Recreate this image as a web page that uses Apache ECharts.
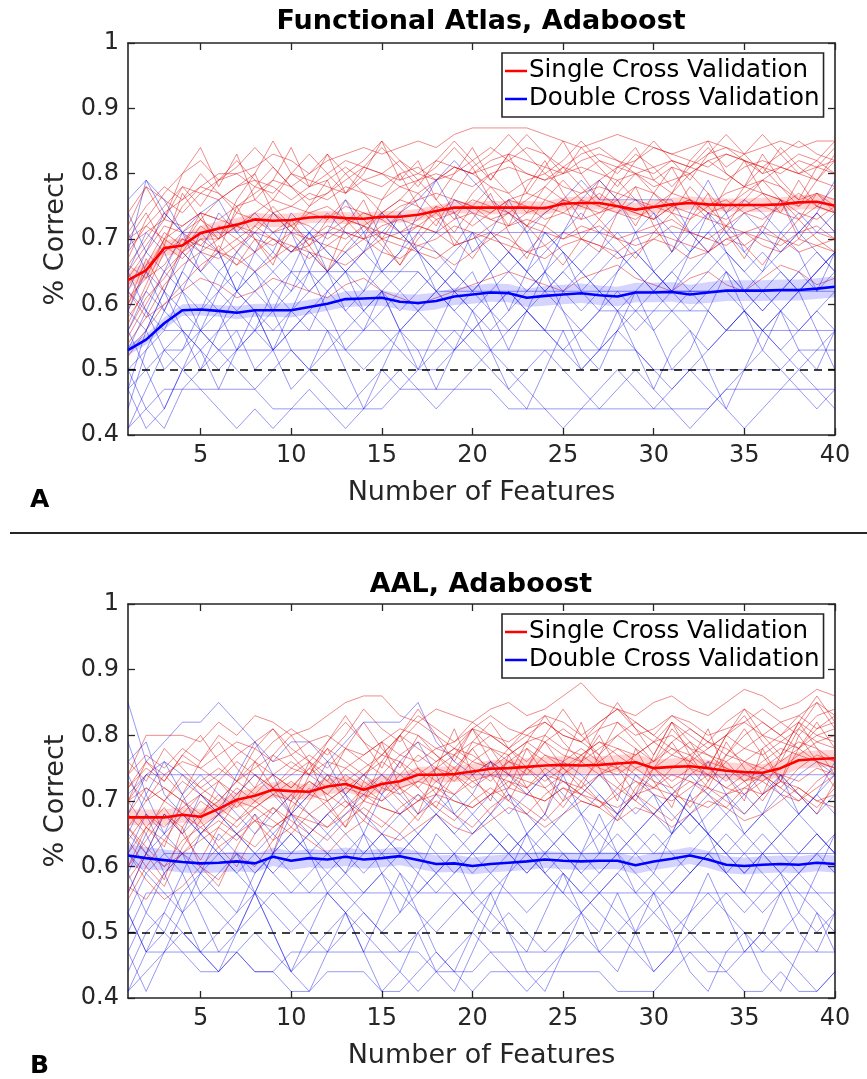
<!DOCTYPE html>
<html>
<head>
<meta charset="utf-8">
<script src="https://cdn.jsdelivr.net/npm/echarts/dist/echarts.min.js"></script>
<style>html,body{margin:0;padding:0;background:#fff}#chart{width:867px;height:1079px}</style>
</head>
<body>
<div id="chart"></div>
<script>
const FEATURES = [1,2,3,4,5,6,7,8,9,10,11,12,13,14,15,16,17,18,19,20,21,22,23,24,25,26,27,28,29,30,31,32,33,34,35,36,37,38,39,40];
const X_TICKS = [5,10,15,20,25,30,35,40];
const CHANCE = 0.5;
const TITLE_A = 'Functional Atlas, Adaboost';
const TITLE_B = 'AAL, Adaboost';
const NAME_SINGLE = 'Single Cross Validation';
const NAME_DOUBLE = 'Double Cross Validation';

// Panel A — mean curves and their shaded error half-widths
const A_SINGLE_MEAN = [.637,.652,.686,.69,.709,.716,.722,.73,.728,.729, .733,.734,.732,.731,.734,.734,.737,.743,.748,.748, .748,.748,.748,.747,.754,.755,.755,.75,.745,.749, .753,.755,.753,.752,.752,.752,.753,.756,.757,.751];
const A_SINGLE_SEM = [.013,.013,.012,.012,.011,.011,.01,.01,.01,.01, .009,.009,.009,.009,.009,.009,.009,.009,.009,.009, .01,.01,.01,.01,.01,.01,.01,.01,.01,.01, .01,.01,.01,.01,.01,.011,.011,.011,.011,.011];
const A_DOUBLE_MEAN = [.53,.546,.571,.591,.592,.59,.587,.591,.591,.591, .596,.601,.608,.609,.61,.604,.602,.605,.612,.615, .618,.617,.61,.613,.615,.617,.614,.612,.618,.618, .619,.615,.618,.621,.621,.621,.622,.622,.624,.627];
const A_DOUBLE_SEM = [.008,.008,.009,.009,.009,.009,.01,.01,.01,.011, .011,.011,.012,.012,.012,.012,.013,.013,.013,.014, .014,.014,.014,.015,.015,.015,.015,.015,.015,.015, .015,.015,.016,.016,.016,.016,.016,.016,.016,.016];

// Panel A — individual single-CV runs
const A_SINGLE_RUNS = [
[.66,.7,.74,.76,.78,.8,.8,.81,.83,.82, .8,.82,.83,.84,.83,.84,.85,.84,.86,.87, .87,.87,.87,.86,.85,.84,.85,.86,.85,.84, .83,.84,.85,.84,.83,.84,.85,.84,.85,.85],
[.6,.65,.7,.72,.74,.73,.75,.76,.74,.75, .77,.76,.78,.77,.76,.78,.79,.8,.79,.78, .8,.81,.8,.79,.8,.81,.8,.79,.8,.81, .82,.81,.8,.79,.81,.82,.81,.8,.81,.82],
[.55,.6,.65,.68,.7,.7,.72,.7,.69,.71, .7,.72,.71,.7,.72,.73,.72,.71,.73,.74, .73,.72,.74,.75,.74,.73,.74,.75,.74,.73, .75,.74,.73,.72,.74,.75,.74,.73,.75,.74],
[.68,.72,.75,.78,.77,.79,.8,.78,.77,.8, .79,.78,.77,.79,.8,.82,.8,.79,.81,.8, .82,.83,.82,.81,.8,.82,.83,.82,.8,.79, .81,.8,.82,.83,.82,.8,.81,.83,.82,.8],
[.62,.58,.63,.66,.68,.67,.69,.71,.7,.68, .7,.69,.68,.7,.71,.7,.69,.7,.72,.71, .7,.72,.73,.72,.7,.71,.72,.7,.69,.7, .72,.71,.7,.69,.71,.72,.7,.69,.71,.7],
[.7,.74,.69,.77,.73,.7,.76,.8,.74,.71, .75,.79,.73,.7,.76,.8,.75,.72,.77,.81, .76,.72,.78,.82,.77,.73,.79,.76,.72,.77, .81,.76,.73,.78,.82,.77,.74,.79,.75,.78],
[.58,.62,.68,.7,.69,.72,.7,.68,.71,.73, .72,.7,.72,.74,.73,.71,.72,.74,.76,.75, .73,.74,.76,.78,.76,.75,.74,.76,.78,.77, .75,.76,.74,.75,.77,.79,.78,.76,.77,.75],
[.64,.68,.72,.71,.73,.76,.78,.8,.85,.8, .78,.8,.82,.81,.8,.79,.8,.82,.81,.8, .81,.82,.84,.83,.81,.8,.82,.81,.82,.84, .83,.82,.81,.83,.82,.81,.8,.82,.81,.8],
[.52,.56,.6,.63,.66,.68,.67,.65,.67,.69, .68,.67,.66,.68,.7,.69,.68,.67,.69,.7, .71,.7,.68,.69,.71,.7,.69,.68,.7,.71, .7,.69,.68,.7,.69,.71,.7,.68,.69,.7],
[.72,.78,.73,.8,.84,.78,.83,.76,.79,.84, .78,.83,.77,.8,.85,.79,.82,.76,.8,.84, .79,.83,.77,.81,.85,.8,.76,.81,.84,.79, .77,.82,.85,.8,.78,.83,.79,.76,.81,.84],
[.66,.64,.7,.68,.72,.7,.74,.73,.71,.72, .74,.75,.73,.72,.74,.76,.75,.73,.74,.76, .75,.74,.72,.74,.76,.75,.77,.75,.74,.73, .75,.76,.74,.73,.75,.77,.76,.74,.73,.75],
[.6,.67,.62,.69,.74,.68,.75,.7,.66,.73, .69,.65,.72,.76,.7,.66,.71,.75,.69,.73, .77,.71,.67,.72,.76,.7,.68,.74,.78,.72, .68,.73,.77,.71,.67,.72,.76,.7,.74,.71],
[.7,.72,.7,.75,.78,.77,.75,.77,.79,.78, .76,.77,.79,.81,.8,.78,.77,.79,.81,.8, .78,.77,.79,.8,.78,.77,.79,.81,.8,.78, .79,.8,.82,.8,.78,.79,.81,.8,.79,.78],
[.57,.63,.69,.67,.7,.68,.7,.72,.7,.68, .69,.71,.7,.72,.71,.7,.72,.71,.69,.7, .72,.74,.72,.71,.7,.72,.71,.7,.71,.72, .73,.71,.7,.72,.71,.7,.69,.71,.72,.7],
[.74,.78,.76,.74,.77,.76,.78,.79,.78,.76, .78,.79,.81,.79,.78,.8,.81,.79,.8,.82, .84,.82,.8,.79,.81,.83,.84,.82,.81,.8, .82,.81,.83,.84,.82,.81,.83,.85,.83,.82],
[.63,.66,.68,.71,.69,.68,.66,.68,.7,.69, .67,.69,.71,.7,.68,.67,.69,.68,.66,.68, .7,.69,.68,.67,.69,.7,.69,.67,.68,.7, .69,.67,.68,.7,.71,.69,.68,.7,.69,.68],
[.69,.71,.73,.72,.74,.73,.72,.74,.76,.75, .74,.73,.75,.74,.73,.75,.76,.77,.76,.75, .74,.76,.77,.76,.75,.77,.78,.77,.76,.75, .77,.76,.75,.77,.78,.77,.76,.75,.77,.76],
[.61,.64,.66,.7,.68,.7,.72,.71,.74,.72, .7,.71,.73,.72,.7,.71,.73,.75,.74,.72, .74,.76,.75,.73,.74,.76,.75,.74,.73,.75, .74,.73,.75,.76,.74,.73,.75,.77,.75,.74],
[.54,.58,.6,.62,.64,.63,.61,.62,.64,.63, .62,.61,.63,.64,.62,.61,.6,.61,.62,.63, .64,.65,.64,.63,.62,.64,.65,.66,.64,.63, .62,.64,.65,.63,.62,.64,.66,.65,.63,.64],
[.65,.69,.73,.78,.75,.79,.82,.79,.76,.8, .83,.8,.77,.81,.84,.81,.78,.82,.85,.82, .79,.83,.86,.83,.8,.84,.81,.78,.82,.85, .82,.79,.83,.86,.83,.8,.84,.81,.79,.83],
[.59,.66,.71,.69,.73,.71,.68,.72,.75,.72, .69,.73,.76,.73,.7,.74,.77,.74,.71,.75, .78,.75,.72,.76,.79,.76,.73,.77,.8,.77, .74,.78,.75,.72,.76,.79,.76,.73,.77,.74],
[.71,.75,.78,.76,.8,.77,.74,.78,.81,.78, .75,.77,.8,.77,.74,.76,.79,.76,.73,.77, .8,.77,.74,.78,.81,.78,.75,.79,.76,.73, .77,.8,.77,.74,.78,.81,.78,.75,.79,.82],
[.56,.61,.64,.68,.65,.69,.66,.7,.67,.71, .68,.65,.69,.72,.69,.66,.7,.73,.7,.67, .71,.68,.72,.69,.66,.7,.73,.7,.67,.71, .74,.71,.68,.72,.69,.66,.7,.73,.7,.68],
[.67,.73,.77,.8,.82,.79,.81,.84,.81,.78, .8,.83,.8,.82,.85,.82,.79,.81,.84,.81, .83,.86,.83,.8,.82,.85,.82,.8,.83,.81, .78,.81,.84,.81,.83,.86,.83,.8,.82,.85]
];

// Panel A — individual double-CV runs
const A_DOUBLE_RUNS = [
[.62,.68,.74,.71,.71,.71,.71,.71,.71,.71, .71,.71,.71,.71,.71,.71,.71,.71,.71,.71, .71,.71,.71,.71,.71,.71,.71,.71,.71,.71, .71,.71,.71,.71,.71,.71,.71,.71,.71,.71],
[.5,.53,.56,.56,.56,.56,.56,.56,.56,.56, .56,.56,.56,.56,.56,.56,.56,.56,.56,.56, .56,.56,.56,.56,.56,.56,.59,.59,.59,.59, .59,.59,.59,.56,.56,.56,.56,.56,.56,.56],
[.41,.44,.47,.47,.47,.47,.47,.47,.44,.44, .44,.44,.44,.44,.44,.47,.47,.47,.47,.47, .47,.44,.44,.44,.44,.44,.44,.44,.44,.44, .44,.44,.44,.47,.47,.47,.47,.47,.47,.47],
[.47,.5,.53,.53,.56,.53,.53,.53,.53,.53, .53,.53,.53,.53,.53,.53,.53,.53,.53,.53, .53,.53,.53,.53,.53,.53,.53,.53,.53,.5, .5,.5,.5,.5,.5,.5,.5,.53,.53,.53],
[.59,.65,.62,.68,.65,.62,.59,.62,.65,.62, .68,.65,.62,.59,.62,.65,.68,.65,.62,.59, .56,.59,.62,.65,.62,.59,.62,.65,.68,.65, .62,.59,.62,.65,.62,.59,.62,.65,.68,.65],
[.53,.56,.62,.59,.56,.53,.56,.5,.53,.56, .59,.56,.53,.5,.53,.56,.59,.62,.59,.56, .53,.56,.59,.56,.53,.5,.53,.56,.53,.5, .47,.5,.53,.56,.59,.56,.53,.5,.53,.56],
[.76,.79,.74,.71,.68,.74,.71,.68,.65,.68, .71,.74,.71,.68,.71,.74,.76,.79,.82,.79, .76,.74,.71,.74,.76,.79,.76,.76,.76,.76, .76,.71,.68,.71,.74,.71,.68,.71,.74,.71],
[.41,.47,.53,.5,.56,.59,.53,.56,.62,.59, .56,.62,.65,.59,.62,.56,.59,.62,.65,.62, .59,.62,.59,.56,.62,.65,.62,.59,.56,.59, .62,.65,.68,.65,.62,.59,.62,.65,.62,.65],
[.65,.59,.56,.62,.68,.65,.68,.71,.68,.65, .62,.65,.68,.71,.74,.71,.68,.65,.68,.71, .68,.65,.62,.65,.68,.65,.68,.71,.68,.65, .68,.71,.74,.71,.68,.65,.68,.71,.68,.65],
[.5,.44,.41,.47,.5,.53,.5,.47,.5,.53, .5,.47,.44,.47,.5,.47,.5,.53,.56,.53, .5,.47,.5,.53,.5,.47,.44,.47,.5,.47, .44,.41,.44,.47,.5,.53,.5,.47,.44,.47],
[.56,.62,.59,.65,.62,.59,.62,.59,.56,.59, .62,.65,.68,.65,.62,.59,.62,.65,.62,.59, .62,.65,.68,.71,.68,.65,.62,.59,.62,.65, .62,.62,.62,.62,.59,.56,.59,.62,.65,.68],
[.74,.68,.65,.71,.74,.76,.71,.74,.71,.68, .71,.68,.65,.68,.74,.71,.68,.71,.76,.74, .71,.68,.65,.68,.71,.74,.71,.74,.76,.74, .71,.68,.71,.74,.76,.74,.71,.74,.71,.74],
[.44,.53,.59,.56,.53,.5,.53,.56,.53,.56, .59,.62,.59,.56,.59,.62,.59,.56,.53,.56, .59,.56,.59,.62,.59,.56,.53,.56,.59,.62, .65,.62,.59,.56,.59,.62,.59,.56,.59,.62],
[.59,.56,.5,.53,.59,.62,.65,.62,.59,.62, .65,.62,.65,.68,.65,.62,.65,.62,.59,.62, .65,.68,.65,.62,.65,.68,.71,.68,.65,.62, .59,.62,.65,.68,.65,.68,.65,.62,.65,.68],
[.47,.41,.44,.5,.47,.44,.41,.44,.41,.44, .47,.44,.41,.44,.47,.5,.47,.44,.47,.5, .53,.5,.47,.44,.41,.44,.47,.5,.47,.44, .47,.5,.47,.44,.41,.44,.47,.5,.47,.44],
[.68,.79,.76,.71,.65,.68,.62,.65,.68,.74, .71,.68,.65,.62,.65,.68,.71,.68,.65,.62, .65,.68,.65,.62,.65,.62,.65,.68,.65,.62, .65,.68,.71,.68,.65,.62,.65,.62,.65,.68],
[.62,.59,.53,.56,.53,.56,.59,.56,.59,.53, .5,.53,.56,.59,.56,.53,.5,.5,.53,.56, .59,.62,.59,.56,.53,.56,.59,.62,.59,.56, .59,.56,.53,.56,.59,.56,.53,.56,.59,.56],
[.53,.59,.65,.62,.59,.65,.62,.65,.62,.65, .65,.65,.65,.65,.65,.65,.65,.62,.62,.62, .62,.62,.62,.62,.62,.62,.62,.62,.62,.62, .62,.62,.62,.62,.62,.62,.62,.62,.62,.62],
[.71,.65,.59,.65,.71,.68,.62,.68,.74,.71, .65,.71,.76,.71,.65,.68,.74,.79,.74,.68, .71,.76,.71,.65,.71,.76,.79,.76,.71,.74, .68,.74,.79,.74,.68,.71,.76,.71,.74,.79],
[.47,.56,.62,.56,.5,.56,.62,.59,.53,.59, .65,.59,.53,.56,.62,.56,.5,.56,.62,.65, .59,.53,.59,.65,.59,.53,.5,.56,.62,.56, .5,.53,.59,.65,.59,.53,.59,.62,.56,.5],
[.56,.5,.44,.5,.53,.47,.53,.59,.53,.47, .5,.56,.5,.44,.5,.56,.53,.47,.53,.59, .53,.47,.44,.5,.56,.5,.53,.59,.53,.47, .53,.56,.5,.44,.5,.56,.59,.53,.5,.56],
[.65,.71,.68,.62,.56,.62,.68,.65,.59,.65, .71,.65,.59,.62,.68,.74,.68,.62,.65,.71, .65,.59,.65,.71,.68,.62,.59,.65,.71,.65, .62,.68,.74,.68,.62,.65,.71,.68,.62,.68]
];

// Panel B — mean curves and their shaded error half-widths
const B_SINGLE_MEAN = [.675,.675,.675,.679,.676,.688,.702,.708,.717,.715, .714,.722,.726,.717,.726,.73,.74,.74,.741,.745, .749,.75,.752,.754,.755,.754,.755,.757,.759,.75, .752,.753,.75,.746,.744,.743,.75,.762,.764,.765];
const B_SINGLE_SEM = [.012,.012,.012,.012,.012,.012,.012,.012,.012,.012, .012,.012,.012,.012,.012,.012,.012,.012,.012,.012, .013,.013,.013,.013,.013,.013,.013,.013,.013,.013, .013,.013,.013,.013,.013,.013,.013,.013,.013,.013];
const B_DOUBLE_MEAN = [.617,.613,.61,.607,.605,.606,.608,.605,.615,.609, .613,.611,.615,.611,.613,.616,.61,.604,.605,.601, .604,.606,.608,.611,.609,.608,.609,.609,.602,.608, .612,.617,.611,.603,.601,.603,.604,.603,.606,.604];
const B_DOUBLE_SEM = [.017,.017,.016,.016,.015,.015,.015,.014,.014,.014, .014,.014,.014,.014,.014,.014,.013,.013,.013,.013, .013,.013,.013,.013,.013,.013,.013,.013,.013,.013, .013,.013,.013,.013,.013,.013,.013,.013,.013,.013];

// Panel B — individual single-CV runs
const B_SINGLE_RUNS = [
[.74,.8,.8,.8,.79,.82,.8,.83,.82,.8, .81,.83,.85,.86,.86,.83,.82,.84,.83,.82, .84,.85,.83,.84,.86,.88,.85,.84,.83,.85, .86,.84,.83,.85,.87,.86,.84,.85,.87,.86],
[.72,.76,.74,.76,.75,.77,.79,.78,.76,.77, .79,.8,.78,.77,.79,.81,.8,.78,.79,.81, .8,.79,.81,.82,.8,.79,.81,.82,.8,.81, .83,.82,.8,.81,.82,.8,.82,.83,.81,.82],
[.58,.62,.6,.64,.66,.68,.7,.69,.71,.7, .68,.7,.72,.71,.7,.72,.73,.72,.71,.73, .74,.73,.72,.74,.73,.72,.74,.75,.73,.72, .74,.73,.72,.71,.73,.75,.74,.73,.75,.74],
[.68,.72,.7,.74,.72,.7,.73,.75,.77,.75, .74,.76,.75,.77,.79,.77,.76,.78,.77,.79, .78,.77,.79,.8,.78,.77,.79,.78,.77,.79, .8,.78,.77,.76,.78,.8,.79,.78,.8,.81],
[.62,.58,.55,.57,.6,.63,.65,.67,.66,.68, .67,.66,.68,.7,.69,.68,.7,.71,.7,.69, .71,.72,.71,.7,.72,.71,.7,.69,.71,.72, .71,.7,.69,.71,.72,.71,.73,.72,.7,.71],
[.7,.66,.69,.65,.68,.71,.69,.72,.74,.72, .75,.73,.71,.74,.76,.74,.72,.75,.77,.75, .73,.76,.78,.76,.74,.77,.79,.77,.75,.76, .78,.76,.74,.77,.76,.75,.77,.79,.78,.76],
[.66,.7,.72,.7,.68,.7,.73,.76,.74,.72, .75,.78,.76,.74,.77,.8,.78,.76,.78,.77, .75,.78,.8,.79,.77,.76,.78,.8,.82,.8, .78,.77,.79,.78,.76,.78,.8,.82,.8,.79],
[.55,.6,.64,.62,.6,.58,.62,.6,.64,.66, .64,.62,.65,.67,.65,.64,.66,.68,.66,.65, .67,.69,.68,.66,.68,.7,.69,.67,.69,.68, .66,.68,.7,.69,.67,.68,.7,.72,.7,.69],
[.76,.73,.78,.75,.72,.74,.77,.79,.81,.78, .76,.79,.82,.79,.77,.8,.83,.81,.79,.82, .8,.78,.81,.83,.82,.8,.82,.84,.81,.79, .82,.8,.78,.8,.82,.84,.82,.8,.83,.84],
[.64,.68,.66,.69,.71,.69,.67,.7,.72,.7, .73,.71,.69,.72,.74,.72,.7,.73,.75,.73, .71,.74,.73,.72,.74,.76,.74,.72,.75,.73, .72,.74,.76,.75,.73,.74,.76,.78,.76,.75],
[.7,.74,.72,.7,.73,.75,.73,.71,.74,.76, .74,.72,.75,.73,.71,.74,.77,.75,.73,.76, .78,.76,.74,.77,.75,.73,.76,.78,.76,.75, .77,.79,.77,.75,.74,.76,.78,.77,.79,.8],
[.6,.64,.68,.66,.7,.68,.66,.69,.71,.73, .71,.7,.72,.74,.72,.71,.73,.75,.74,.72, .74,.76,.75,.73,.75,.77,.75,.74,.76,.75, .73,.75,.74,.72,.74,.73,.75,.77,.76,.75],
[.72,.75,.73,.77,.75,.73,.76,.74,.72,.75, .77,.75,.78,.76,.74,.77,.79,.77,.75,.78, .8,.78,.76,.79,.81,.79,.77,.8,.78,.76, .79,.81,.79,.77,.8,.82,.8,.78,.81,.83],
[.57,.55,.59,.62,.64,.66,.64,.67,.69,.67, .65,.68,.7,.68,.66,.69,.71,.69,.67,.7, .72,.7,.68,.71,.73,.71,.69,.72,.7,.68, .71,.73,.71,.69,.72,.74,.72,.7,.73,.75],
[.68,.65,.7,.73,.71,.69,.72,.7,.68,.71, .73,.71,.74,.72,.7,.73,.75,.73,.71,.74, .76,.74,.72,.75,.73,.71,.74,.76,.74,.72, .75,.77,.75,.73,.76,.74,.72,.75,.77,.76],
[.66,.63,.6,.62,.65,.67,.65,.63,.66,.68, .66,.64,.67,.69,.67,.65,.68,.7,.68,.66, .69,.71,.69,.67,.7,.72,.7,.68,.71,.69, .67,.7,.72,.7,.68,.71,.73,.71,.69,.72],
[.74,.77,.75,.78,.76,.8,.78,.76,.79,.81, .79,.77,.8,.84,.81,.79,.82,.8,.78,.81, .83,.81,.8,.82,.8,.79,.82,.84,.82,.8, .83,.81,.79,.82,.84,.82,.8,.83,.85,.83],
[.62,.66,.64,.68,.66,.64,.67,.69,.67,.65, .68,.66,.69,.71,.69,.68,.7,.72,.7,.69, .71,.73,.71,.7,.72,.7,.69,.71,.73,.71, .7,.72,.74,.72,.71,.73,.71,.7,.72,.74],
[.7,.72,.7,.68,.71,.73,.71,.74,.72,.74, .76,.74,.73,.75,.77,.76,.74,.76,.78,.76, .75,.77,.79,.77,.76,.78,.76,.75,.77,.79, .77,.76,.78,.8,.78,.77,.79,.81,.79,.78],
[.56,.62,.58,.66,.6,.57,.63,.68,.62,.7, .76,.7,.66,.73,.79,.72,.68,.75,.81,.74, .7,.77,.72,.68,.76,.82,.75,.7,.78,.73, .69,.76,.81,.74,.7,.78,.73,.8,.76,.72],
[.6,.66,.63,.7,.67,.73,.7,.76,.72,.68, .74,.78,.73,.7,.76,.8,.75,.71,.77,.81, .76,.72,.78,.74,.7,.76,.8,.75,.71,.77, .82,.77,.73,.79,.75,.71,.77,.82,.78,.74],
[.64,.6,.57,.63,.67,.63,.6,.65,.69,.66, .7,.74,.7,.67,.72,.76,.72,.69,.74,.78, .74,.7,.75,.79,.75,.72,.77,.73,.7,.75, .79,.75,.72,.77,.81,.77,.73,.78,.82,.78],
[.73,.7,.74,.71,.76,.79,.75,.72,.77,.8, .76,.73,.78,.82,.78,.75,.8,.77,.74,.79, .82,.78,.75,.8,.84,.8,.77,.82,.79,.76, .81,.78,.75,.8,.83,.79,.76,.81,.85,.81],
[.66,.62,.68,.65,.61,.66,.7,.67,.64,.69, .72,.69,.66,.7,.73,.7,.67,.71,.74,.71, .68,.72,.75,.72,.69,.73,.7,.67,.72,.75, .72,.69,.73,.76,.73,.7,.74,.71,.68,.73],
[.7,.76,.73,.77,.8,.76,.73,.78,.81,.77, .74,.79,.83,.79,.75,.8,.84,.8,.76,.81, .78,.74,.79,.83,.79,.76,.81,.85,.81,.77, .82,.79,.75,.8,.84,.8,.77,.82,.86,.82]
];

// Panel B — individual double-CV runs
const B_DOUBLE_RUNS = [
[.85,.76,.79,.82,.82,.85,.82,.79,.76,.79, .79,.76,.79,.82,.82,.82,.85,.79,.76,.74, .76,.74,.71,.74,.76,.74,.71,.68,.71,.74, .71,.68,.71,.74,.71,.68,.71,.74,.76,.74],
[.71,.74,.74,.74,.74,.74,.74,.74,.74,.74, .74,.74,.74,.74,.74,.74,.74,.74,.74,.74, .74,.74,.74,.74,.74,.74,.74,.74,.74,.74, .74,.74,.74,.74,.74,.74,.74,.74,.74,.74],
[.62,.68,.62,.62,.62,.62,.62,.62,.62,.62, .62,.62,.62,.62,.62,.62,.62,.62,.62,.62, .62,.62,.62,.62,.62,.62,.62,.62,.62,.62, .62,.62,.62,.62,.62,.62,.62,.62,.62,.62],
[.5,.56,.56,.56,.56,.56,.56,.56,.56,.56, .56,.56,.56,.56,.56,.56,.56,.56,.56,.56, .56,.56,.56,.56,.56,.56,.56,.56,.56,.56, .56,.56,.56,.56,.56,.56,.56,.56,.56,.56],
[.53,.47,.47,.47,.47,.47,.47,.44,.44,.47, .47,.47,.47,.47,.47,.47,.47,.44,.44,.44, .47,.47,.47,.47,.47,.47,.47,.47,.47,.47, .47,.47,.47,.47,.47,.47,.47,.47,.47,.47],
[.41,.47,.5,.47,.44,.44,.47,.44,.44,.41, .41,.44,.44,.44,.41,.41,.44,.47,.44,.41, .44,.44,.44,.44,.44,.44,.44,.41,.41,.41, .44,.47,.44,.44,.41,.41,.44,.41,.41,.44],
[.74,.68,.65,.62,.59,.62,.65,.68,.65,.62, .65,.68,.71,.68,.65,.62,.65,.62,.59,.62, .65,.62,.59,.62,.65,.68,.65,.62,.65,.68, .71,.68,.65,.62,.59,.62,.65,.62,.65,.62],
[.59,.53,.5,.56,.59,.56,.53,.59,.62,.59, .56,.59,.56,.53,.5,.53,.56,.59,.56,.53, .56,.59,.62,.59,.56,.53,.56,.53,.5,.53, .56,.59,.62,.59,.56,.53,.56,.59,.56,.53],
[.65,.62,.68,.65,.71,.68,.65,.62,.59,.62, .65,.62,.59,.56,.59,.62,.65,.68,.65,.62, .59,.62,.65,.62,.59,.56,.59,.62,.65,.62, .65,.68,.65,.62,.59,.62,.65,.68,.65,.62],
[.47,.53,.59,.62,.56,.53,.5,.53,.56,.53, .5,.47,.5,.53,.5,.47,.5,.53,.56,.53, .5,.53,.5,.47,.5,.53,.56,.59,.56,.53, .5,.53,.56,.53,.5,.47,.5,.53,.5,.53],
[.56,.62,.65,.68,.65,.62,.59,.56,.62,.65, .62,.65,.62,.59,.62,.65,.62,.59,.62,.65, .68,.65,.62,.65,.62,.59,.62,.65,.62,.59, .56,.59,.62,.65,.62,.65,.62,.59,.62,.65],
[.79,.71,.65,.71,.74,.71,.68,.65,.68,.71, .68,.65,.68,.71,.74,.71,.68,.71,.68,.65, .68,.71,.68,.65,.68,.71,.74,.71,.68,.71, .68,.65,.68,.71,.68,.71,.74,.71,.68,.71],
[.44,.5,.53,.5,.47,.5,.53,.56,.53,.5, .53,.56,.53,.56,.59,.56,.53,.5,.53,.56, .59,.56,.53,.56,.59,.56,.53,.5,.53,.56, .53,.5,.53,.56,.53,.56,.59,.56,.53,.5],
[.62,.59,.56,.53,.56,.59,.62,.59,.62,.65, .62,.59,.62,.65,.62,.59,.56,.59,.62,.59, .62,.65,.62,.59,.62,.59,.56,.59,.62,.65, .62,.59,.62,.59,.62,.59,.56,.59,.62,.59],
[.68,.74,.76,.74,.71,.68,.71,.74,.71,.68, .71,.74,.71,.74,.71,.68,.65,.68,.71,.68, .71,.68,.71,.74,.71,.68,.71,.68,.65,.68, .71,.74,.71,.68,.71,.74,.71,.68,.71,.74],
[.41,.44,.47,.5,.47,.44,.47,.5,.47,.44, .47,.5,.53,.5,.47,.44,.41,.44,.47,.5, .47,.44,.41,.44,.47,.5,.47,.5,.47,.44, .47,.5,.47,.44,.47,.5,.47,.44,.41,.44],
[.53,.59,.62,.59,.65,.62,.59,.62,.59,.56, .59,.62,.59,.62,.65,.62,.59,.56,.59,.62, .65,.62,.59,.62,.65,.62,.59,.62,.59,.56, .59,.62,.65,.68,.65,.62,.59,.62,.65,.62],
[.76,.79,.71,.68,.65,.68,.65,.62,.65,.68, .65,.68,.65,.62,.65,.68,.71,.68,.65,.68, .65,.62,.65,.68,.65,.62,.65,.68,.71,.68, .65,.68,.65,.62,.65,.68,.65,.68,.71,.68],
[.65,.71,.76,.71,.65,.68,.74,.79,.74,.68, .71,.76,.71,.65,.71,.76,.79,.74,.68,.71, .76,.71,.65,.68,.74,.68,.62,.68,.74,.71, .65,.71,.76,.71,.65,.68,.74,.68,.71,.76],
[.53,.47,.53,.59,.53,.47,.5,.56,.5,.44, .5,.56,.53,.47,.53,.59,.53,.47,.44,.5, .56,.5,.47,.53,.59,.53,.5,.56,.5,.44, .47,.53,.59,.53,.47,.5,.56,.5,.47,.53],
[.59,.65,.59,.53,.59,.65,.62,.56,.62,.68, .62,.56,.59,.65,.59,.53,.59,.65,.62,.56, .53,.59,.65,.59,.56,.62,.68,.62,.56,.59, .65,.71,.65,.59,.56,.62,.59,.53,.59,.65],
[.47,.41,.47,.53,.47,.44,.5,.56,.5,.44, .41,.47,.53,.47,.41,.44,.5,.44,.41,.47, .53,.5,.44,.41,.47,.53,.47,.44,.5,.56, .5,.44,.41,.47,.5,.44,.41,.47,.53,.47]
];

const FONT = '"DejaVu Sans", Verdana, sans-serif';
const AXIS_COLOR = '#262626';

function pairs(values) { return FEATURES.map((x, i) => [x, values[i]]); }

function runSeries(runs, color, ax) {
  return runs.map(r => ({
    type: 'line', xAxisIndex: ax, yAxisIndex: ax, data: pairs(r),
    showSymbol: false, silent: true, z: 2,
    lineStyle: { width: 0.9, color: color }
  }));
}

function bandSeries(mean, sem, color, ax) {
  return {
    type: 'custom', xAxisIndex: ax, yAxisIndex: ax, silent: true, z: 3,
    encode: { x: 0, y: 1 },
    data: FEATURES.map((x, i) => [x, mean[i] - sem[i], mean[i] + sem[i]]),
    renderItem(params, api) {
      if (params.dataIndex !== 0) return null;
      const upper = FEATURES.map((x, i) => api.coord([x, mean[i] + sem[i]]));
      const lower = FEATURES.map((x, i) => api.coord([x, mean[i] - sem[i]])).reverse();
      return { type: 'polygon', shape: { points: upper.concat(lower) }, style: { fill: color } };
    }
  };
}

function meanSeries(name, mean, color, ax, withChance) {
  const s = {
    name: name, type: 'line', xAxisIndex: ax, yAxisIndex: ax, data: pairs(mean),
    showSymbol: false, z: 5, itemStyle: { color: color },
    lineStyle: { width: 2.6, color: color }
  };
  if (withChance) {
    s.markLine = {
      silent: true, symbol: ['none', 'none'], label: { show: false },
      lineStyle: { color: '#000', width: 1.6, type: [8, 6] },
      data: [{ yAxis: CHANCE }]
    };
  }
  return s;
}

function xAxisDef(grid, pos, main) {
  return {
    type: 'value', gridIndex: grid, position: pos, min: 1, max: 40,
    axisLine: { show: true, onZero: false, lineStyle: { color: AXIS_COLOR, width: 1.6 } },
    axisTick: { show: true, inside: true, length: 7, customValues: X_TICKS, lineStyle: { color: AXIS_COLOR, width: 1.3 } },
    axisLabel: { show: main, customValues: X_TICKS, fontFamily: FONT, fontSize: 24, color: AXIS_COLOR, margin: 9 },
    splitLine: { show: false },
    name: main ? 'Number of Features' : '', nameLocation: 'middle', nameGap: 44,
    nameTextStyle: { fontFamily: FONT, fontSize: 27, color: AXIS_COLOR }
  };
}

function yAxisDef(grid, pos, main) {
  return {
    type: 'value', gridIndex: grid, position: pos, min: 0.4, max: 1, interval: 0.1,
    axisLine: { show: true, onZero: false, lineStyle: { color: AXIS_COLOR, width: 1.6 } },
    axisTick: { show: true, inside: true, length: 7, lineStyle: { color: AXIS_COLOR, width: 1.3 } },
    axisLabel: { show: main, fontFamily: FONT, fontSize: 24, color: AXIS_COLOR, margin: 9,
      formatter: v => String(Number(v.toFixed(1))) },
    splitLine: { show: false },
    name: main ? '% Correct' : '', nameLocation: 'middle', nameGap: 58, nameRotate: 90,
    nameTextStyle: { fontFamily: FONT, fontSize: 27, color: AXIS_COLOR }
  };
}

function legendDef(top) {
  return {
    left: 502, top: top, orient: 'vertical', icon: 'rect', itemWidth: 22, itemHeight: 2.5,
    itemGap: 0, padding: [4, 4, 4, 3], selectedMode: false,
    borderColor: AXIS_COLOR, borderWidth: 1.6, backgroundColor: '#fff',
    textStyle: { fontFamily: FONT, fontSize: 24.5, color: '#000', lineHeight: 28, padding: [0, 0, 0, -3] },
    data: [NAME_SINGLE, NAME_DOUBLE]
  };
}

const RED_THIN = 'rgba(215,0,0,0.5)';
const BLUE_THIN = 'rgba(0,0,225,0.45)';
const RED_BAND = 'rgba(255,0,0,0.17)';
const BLUE_BAND = 'rgba(0,0,255,0.17)';

const option = {
  animation: false,
  backgroundColor: '#fff',
  textStyle: { fontFamily: FONT },
  grid: [
    { left: 128, top: 43, width: 707, height: 392 },
    { left: 128, top: 604, width: 707, height: 394 }
  ],
  xAxis: [xAxisDef(0, 'bottom', true), xAxisDef(0, 'top', false), xAxisDef(1, 'bottom', true), xAxisDef(1, 'top', false)],
  yAxis: [yAxisDef(0, 'left', true), yAxisDef(0, 'right', false), yAxisDef(1, 'left', true), yAxisDef(1, 'right', false)],
  legend: [legendDef(53), legendDef(614)],
  graphic: [
    { type: 'text', x: 481, y: 22, style: { text: TITLE_A, font: 'bold 27px ' + FONT, fill: '#000', align: 'center', verticalAlign: 'middle' } },
    { type: 'text', x: 481, y: 585, style: { text: TITLE_B, font: 'bold 27px ' + FONT, fill: '#000', align: 'center', verticalAlign: 'middle' } },
    { type: 'text', x: 30, y: 500, style: { text: 'A', font: 'bold 25px ' + FONT, fill: '#000', verticalAlign: 'middle' } },
    { type: 'text', x: 30, y: 1066, style: { text: 'B', font: 'bold 25px ' + FONT, fill: '#000', verticalAlign: 'middle' } },
    { type: 'line', shape: { x1: 10, y1: 533, x2: 867, y2: 533 }, style: { stroke: AXIS_COLOR, lineWidth: 2 } }
  ],
  series: [].concat(
    runSeries(A_SINGLE_RUNS, RED_THIN, 0),
    runSeries(A_DOUBLE_RUNS, BLUE_THIN, 0),
    [bandSeries(A_SINGLE_MEAN, A_SINGLE_SEM, RED_BAND, 0), bandSeries(A_DOUBLE_MEAN, A_DOUBLE_SEM, BLUE_BAND, 0)],
    [meanSeries(NAME_SINGLE, A_SINGLE_MEAN, '#ff0000', 0, true), meanSeries(NAME_DOUBLE, A_DOUBLE_MEAN, '#0000ff', 0, false)],
    runSeries(B_SINGLE_RUNS, RED_THIN, 2),
    runSeries(B_DOUBLE_RUNS, BLUE_THIN, 2),
    [bandSeries(B_SINGLE_MEAN, B_SINGLE_SEM, RED_BAND, 2), bandSeries(B_DOUBLE_MEAN, B_DOUBLE_SEM, BLUE_BAND, 2)],
    [meanSeries(NAME_SINGLE, B_SINGLE_MEAN, '#ff0000', 2, true), meanSeries(NAME_DOUBLE, B_DOUBLE_MEAN, '#0000ff', 2, false)]
  )
};

const chart = echarts.init(document.getElementById('chart'), null, { renderer: 'canvas' });
chart.setOption(option);
</script>
</body>
</html>
